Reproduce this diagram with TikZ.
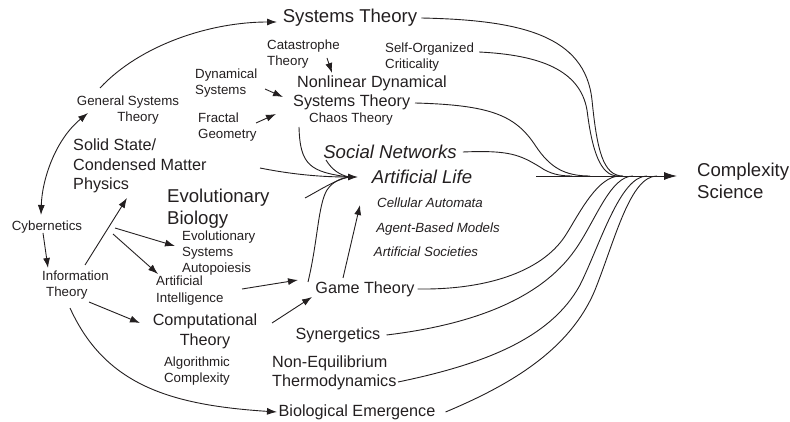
\documentclass[tikz,border=0pt]{standalone}
\usepackage{fontspec}
\setmainfont{Liberation Sans}
\usetikzlibrary{arrows.meta}
\definecolor{ink}{HTML}{231F20}
\tikzset{
  sm/.style={font=\fontsize{13.3}{16}\selectfont, inner sep=0pt, text=ink},
  smit/.style={font=\fontsize{13.3}{16}\selectfont\itshape, inner sep=0pt, text=ink},
  md/.style={font=\fontsize{16.2}{19.5}\selectfont, inner sep=0pt, text=ink},
  lg/.style={font=\fontsize{18.6}{22}\selectfont, inner sep=0pt, text=ink},
  lgit/.style={font=\fontsize{18.6}{22}\selectfont\itshape, inner sep=0pt, text=ink},
  conn/.style={draw=ink, line width=0.9pt},
  arr/.style={conn, -{Latex[length=10pt,width=7pt]}},
  darr/.style={conn, {Latex[length=10pt,width=7pt]}-{Latex[length=10pt,width=7pt]}},
  mainarr/.style={conn, -{Latex[length=13pt,width=8pt]}},
}
\begin{document}
\begin{tikzpicture}[x=1pt,y=-1pt]
\useasboundingbox (0,0) rectangle (790,422);

% ---------- nodes ----------
\node[lg] (st) at (350,18) {Systems Theory};
\node[sm, align=left, anchor=west] (cat) at (267,54) {Catastrophe\\Theory};
\node[sm, align=left, anchor=west] (soc) at (385,57) {Self-Organized\\Criticality};
\node[sm, align=left, anchor=west] (dyn) at (195,83) {Dynamical\\Systems};
\node[md, align=left, anchor=west] (nl) at (293,93) {\hspace*{4pt}Nonlinear Dynamical\\Systems Theory};
\node[sm] (chaos) at (351,119) {Chaos Theory};
\node[sm, align=left, anchor=west] (frac) at (198,127) {Fractal\\Geometry};
\node[sm, align=center] (gst) at (128,110) {General Systems\\\hspace*{20pt}Theory};
\node[md, align=left, anchor=west] (ss) at (73,166) {Solid State/\\Condensed Matter\\Physics};
\node[lg, align=left, anchor=west] (eb) at (167,209) {Evolutionary\\Biology};
\node[sm] (cyb) at (47,227) {Cybernetics};
\node[sm, align=left, anchor=west] (info) at (42,285) {Information\\\hspace*{4pt}Theory};
\node[sm, align=left, anchor=west] (evs) at (182,253) {Evolutionary\\Systems\\Autopoiesis};
\node[sm, align=left, anchor=west, font=\fontsize{13.3}{17}\selectfont] (ai) at (156,291) {Artificial\\Intelligence};
\node[md, align=center, font=\fontsize{16.2}{20}\selectfont] (ct) at (205,331) {Computational\\Theory};
\node[sm, align=center] (alg) at (197,371) {Algorithmic\\Complexity};
\node[md] (gt) at (365,289) {Game Theory};
\node[md] (syn) at (338,335) {Synergetics};
\node[md, align=left, anchor=west] (neq) at (272,373) {Non-Equilibrium\\Thermodynamics};
\node[md] (be) at (357,412) {Biological Emergence};
\node[lgit] (sn) at (390,152) {Social Networks};
\node[lgit] (al) at (422,177) {Artificial Life};
\node[smit] (ca) at (430,203) {Cellular Automata};
\node[smit] (abm) at (438,229) {Agent-Based Models};
\node[smit] (as) at (426,252) {Artificial Societies};
\node[lg, align=left, anchor=west] (cs) at (697,181) {Complexity\\Science};

% ---------- named coordinates ----------
\coordinate (ms) at (536,176);
\coordinate (tip) at (677,176);
\coordinate (m1) at (623,176);
\coordinate (m2) at (618,176);
\coordinate (m3) at (590,176);
\coordinate (m4) at (572,176);
\coordinate (m5) at (620,176);
\coordinate (m6) at (633,176);
\coordinate (m7) at (647,176);
\coordinate (m8) at (657,176);
\coordinate (nlo) at (415,103);
\coordinate (neqo) at (398,382);
\coordinate (alin) at (358,177);
\coordinate (alj) at (349,177);
\coordinate (nlb) at (299,127);
\coordinate (snb) at (326,160);
\coordinate (sso) at (260,168);
\coordinate (ebo) at (305,198);
\coordinate (gtl) at (308,282);
\coordinate (gtu) at (343,278);
\coordinate (cain) at (360,205);
\coordinate (aio) at (242,289);
\coordinate (gtin1) at (298,280);
\coordinate (cto) at (272,323);
\coordinate (gtin2) at (312,297);
\coordinate (gsto) at (100,88);
\coordinate (stin) at (277,22);
\coordinate (gstb) at (88,113);
\coordinate (cybt) at (41,215);
\coordinate (cybb) at (43,233);
\coordinate (infot) at (48,268);
\coordinate (info1) at (85,265);
\coordinate (ssin) at (127,198);
\coordinate (info2) at (115,228);
\coordinate (evsin) at (175,246);
\coordinate (info3) at (113,234);
\coordinate (aiin) at (158,274);
\coordinate (info4) at (89,302);
\coordinate (ctin) at (140,323);
\coordinate (info5) at (70,308);
\coordinate (bein) at (277,412);
\coordinate (dyno) at (265,89);
\coordinate (nlin1) at (283,97);
\coordinate (fraco) at (256,123);
\coordinate (nlin2) at (276,114);
\coordinate (cato) at (327,58);
\coordinate (nlin3) at (332,73);

% ---------- main arrow ----------
\draw[mainarr] (ms) -- (tip);

% curves into the main arrow, from above
\draw[conn] ([xshift=4pt]st.east) .. controls (520,20) and (585,35) .. (592,100)
  .. controls (597,150) and (603,176) .. (m1);
\draw[conn] ([xshift=5pt,yshift=5pt]soc.east) .. controls (540,55) and (580,70) .. (587,110)
  .. controls (592,150) and (600,176) .. (m2);
\draw[conn] (nlo) .. controls (490,105) and (515,115) .. (535,145)
  .. controls (550,168) and (565,176) .. (m3);
\draw[conn] ([xshift=6pt]sn.east) .. controls (510,150) and (520,155) .. (540,167)
  .. controls (550,174) and (560,176) .. (m4);

% curves into the main arrow, from below
\draw[conn] ([xshift=3pt]gt.east) .. controls (490,290) and (545,270) .. (567,233)
  .. controls (580,212) and (598,176) .. (m5);
\draw[conn] ([xshift=6pt]syn.east) .. controls (470,325) and (540,300) .. (575,250)
  .. controls (595,222) and (610,176) .. (m6);
\draw[conn] (neqo) .. controls (480,365) and (550,340) .. (580,285)
  .. controls (600,245) and (620,176) .. (m7);
\draw[conn] ([xshift=10pt]be.east) .. controls (510,385) and (570,350) .. (595,290)
  .. controls (615,240) and (630,176) .. (m8);

% into Artificial Life
\draw[arr] (sso) .. controls (300,176) and (330,177) .. (alin);
\draw[conn] (nlb) .. controls (300,165) and (310,172) .. (alj);
\draw[conn] (snb) .. controls (332,170) and (340,175) .. (alj);
\draw[conn] (ebo) .. controls (320,190) and (335,180) .. (alj);
\draw[conn] (gtl) .. controls (318,240) and (318,205) .. (327,190)
  .. controls (333,181) and (342,178) .. (alj);
\draw[arr] (gtu) -- (cain);

% into Game Theory
\draw[arr] (aio) -- (gtin1);
\draw[arr] (cto) -- (gtin2);

% left side
\draw[arr] (gsto) .. controls (140,45) and (210,22) .. (stin);
\draw[darr] (gstb) .. controls (55,140) and (42,180) .. (cybt);
\draw[arr] (cybb) -- (infot);
\draw[arr] (info1) -- (ssin);
\draw[arr] (info2) -- (evsin);
\draw[arr] (info3) -- (aiin);
\draw[arr] (info4) -- (ctin);
\draw[arr] (info5) .. controls (105,385) and (170,405) .. (bein);

% into Nonlinear Dynamical Systems Theory
\draw[arr] (dyno) -- (nlin1);
\draw[arr] (fraco) -- (nlin2);
\draw[arr] (cato) -- (nlin3);
\end{tikzpicture}
\end{document}
